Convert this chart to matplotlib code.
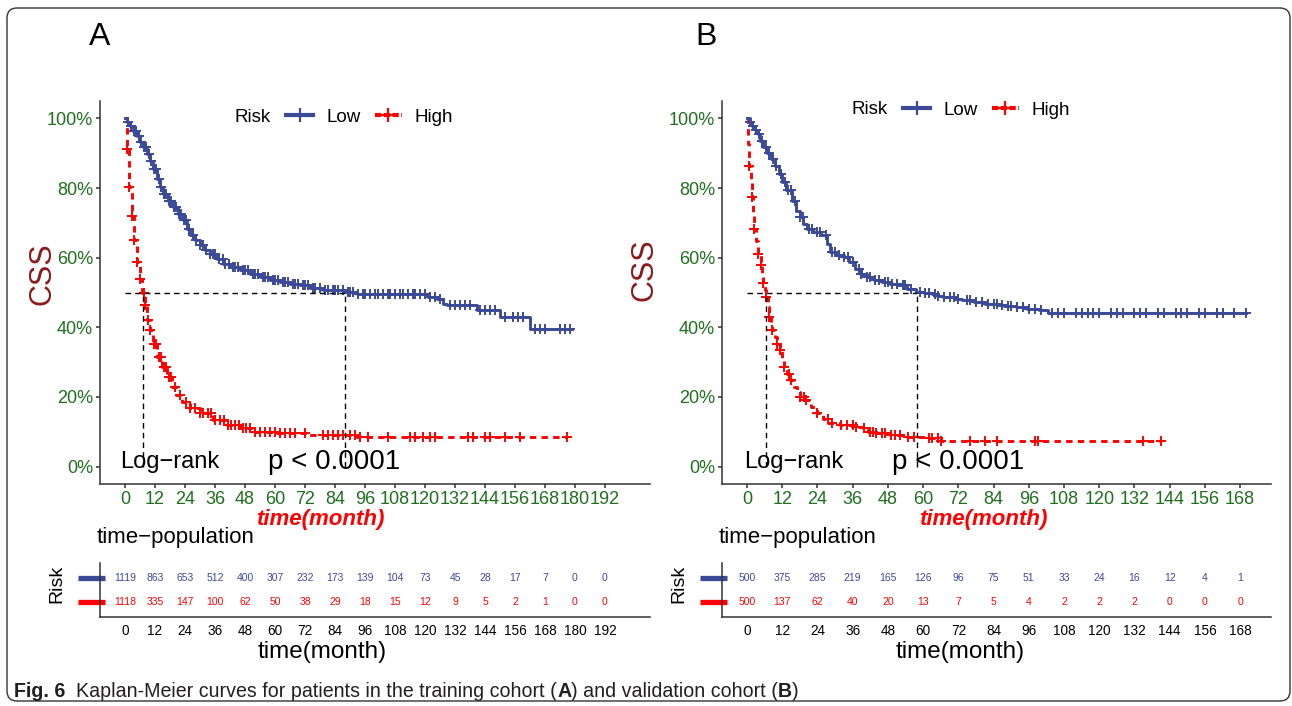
import numpy as np
import matplotlib
matplotlib.use('Agg')
import matplotlib.pyplot as plt
from matplotlib.lines import Line2D
from matplotlib.patches import FancyBboxPatch
import matplotlib.transforms as mtransforms

plt.rcParams['font.family'] = ['Liberation Sans', 'DejaVu Sans']

# ---------------- data ----------------
# Panel A (training cohort)
A_low_t = [0, 0.9, 2, 3.3, 4.7, 6, 7.3, 8.7, 10, 11.3, 12.7, 14, 15.3, 17.3, 19.3, 21.3, 23.3, 24.7, 26, 28,
           30, 32, 34, 36.7, 39.3, 42, 46, 50, 54, 58, 62, 66, 70, 74, 79.3, 87.3, 92.7, 121.3, 124.7, 127.3,
           128.7, 140.7, 150, 162, 178.7]
A_low_s = [100, 99.1, 97.9, 96.5, 95.0, 93.1, 91.7, 89.8, 87.9, 85.5, 82.6, 80.2, 78.3, 76.4, 74.5, 72.6, 70.7,
           68.3, 66.4, 65.0, 63.5, 62.1, 61.1, 59.7, 58.3, 57.3, 56.4, 55.4, 54.4, 53.5, 53.0, 52.5, 52.1, 51.4,
           50.8, 50.1, 49.7, 48.7, 48.0, 46.8, 46.3, 44.9, 43.0, 39.6, 39.6]
A_high_t = [0, 0.7, 1.7, 2.7, 3.7, 4.7, 6, 6.9, 8, 8.9, 10, 11.3, 12.7, 14.7, 16.7, 18.7, 20.4, 22.7, 26, 30,
            35.3, 40.7, 46, 51.3, 60.7, 72.7, 92.7, 122, 176.7]
A_high_s = [100, 91.2, 80.2, 72.1, 65, 58.7, 54, 49.9, 46.3, 42, 39.2, 35.3, 31.5, 28.7, 25.8, 22.9, 20.5, 18.6,
            16.7, 15.3, 13.4, 11.9, 11, 10, 9.7, 9.1, 8.6, 8.4, 8.4]
A_low_cens = [1, 2.5, 3.5, 4.5, 5.5, 6.5, 7.5, 8.5, 9.5, 10.5, 11.5, 12.5, 13.5, 14.5, 15.5, 16.5, 17.5, 18.5,
              19.5, 20.5, 21.5, 22.5, 23.5, 24.5, 25.5, 27, 28.5, 30, 31, 32.5, 34, 35, 36, 37.5, 39, 40, 41.5,
              43, 44, 45, 47, 48, 49, 51, 52, 53, 55, 56, 57, 59, 60, 61, 63, 64, 65, 67, 68, 69, 71, 72, 73,
              75, 76, 78, 80, 81, 83, 84, 85, 87, 89, 90, 91, 93, 95, 96, 98, 100, 101, 103, 105, 106, 108, 110,
              111, 113, 115, 116, 118, 120, 122, 124, 126, 130, 132, 134, 136, 138, 142, 144, 146, 148, 152,
              155, 157, 159, 164, 166, 168, 174, 176, 178]
A_high_cens = [0.7, 1.7, 2.7, 3.7, 4.7, 6, 7.5, 8, 9, 10, 11.5, 12.5, 13.5, 14.5, 15.5, 16.5, 17.5, 18.5, 20,
               22, 24.5, 26, 28, 30, 31, 33, 34.5, 36, 38, 39.5, 41, 42.5, 44, 45.5, 47, 48.5, 50, 52, 54, 56,
               58, 60, 62, 64, 66, 68, 72, 79, 81, 83, 85, 87, 90, 92, 94, 97, 105, 114, 116, 119, 122, 124,
               137, 139, 144, 146, 152, 158, 176.7]
A_median_low, A_median_high = 88, 7
A_breaks = [0, 12, 24, 36, 48, 60, 72, 84, 96, 108, 120, 132, 144, 156, 168, 180, 192]
A_low_n = [1119, 863, 653, 512, 400, 307, 232, 173, 139, 104, 73, 45, 28, 17, 7, 0, 0]
A_high_n = [1118, 335, 147, 100, 62, 50, 38, 29, 18, 15, 12, 9, 5, 2, 1, 0, 0]

# Panel B (validation cohort)
B_low_t = [0, 0.9, 1.7, 2.7, 3.6, 4.5, 5.6, 6.9, 8.2, 9.5, 10.8, 12.1, 13.4, 15.3, 16.6, 17.9, 19.2, 20.5,
           22.5, 25.1, 27.1, 28.4, 30.3, 32.9, 34.9, 36.9, 38.8, 40.8, 43.4, 46.0, 48.6, 51.2, 54.5, 57.7,
           60.3, 62.9, 64.9, 66.9, 70.8, 73.4, 77.3, 81.2, 85.1, 87.7, 91.6, 95.5, 99.4, 102.7, 169.9]
B_low_s = [100, 98.9, 97.9, 96.7, 95.5, 93.6, 91.7, 90.0, 88.3, 86.4, 84.0, 81.7, 79.3, 76.4, 73.5, 71.6, 69.7,
           68.3, 67.3, 66.4, 64.0, 61.6, 60.9, 60.2, 58.7, 56.8, 55.4, 54.4, 53.5, 53.0, 52.5, 52.1, 51.1, 50.1,
           49.9, 49.7, 49.0, 48.7, 48.2, 47.8, 47.3, 46.8, 46.4, 46.0, 45.8, 45.4, 44.9, 44.1, 44.1]
B_high_t = [0, 0.5, 0.7, 1.3, 1.6, 2.0, 2.4, 3.0, 3.6, 4.7, 5.2, 5.6, 6.2, 6.6, 7.1, 7.5, 8.2, 8.6, 9.5, 10.1,
            11.2, 11.8, 12.7, 13.6, 14.7, 16.0, 17.0, 17.9, 19.9, 21.8, 23.8, 25.8, 27.7, 31.6, 36.9, 39.5,
            41.4, 43.4, 48.6, 53.8, 61.6, 66.2, 141.2]
B_high_s = [100, 92.6, 86.4, 82.1, 77.4, 72.6, 68.3, 64.9, 61.1, 57.8, 55.4, 52.7, 50.6, 48.7, 45.8, 43.0, 40.6,
            39.2, 37.2, 35.3, 33.4, 31.0, 28.7, 26.7, 24.8, 22.9, 21.5, 20.1, 19.1, 17.2, 15.3, 13.8, 12.4,
            11.9, 11.5, 11.0, 10.0, 9.6, 9.1, 8.4, 8.1, 7.4, 7.4]
B_low_cens = [1, 2, 3, 4, 5, 6.5, 7.5, 9, 10, 11.5, 13, 14, 15, 16.5, 18, 19, 21, 22, 24, 25, 27, 29, 30, 31.5,
              33, 34.5, 36, 38, 39, 41, 42, 43.5, 45, 47, 48, 49.5, 51, 53, 54, 56, 59, 60.5, 62, 64, 65, 67,
              69, 70.5, 72, 75, 76, 78, 80, 82, 84, 85, 87, 89, 90, 92, 94, 96, 98, 100, 104, 106, 108, 112,
              114, 116, 118, 120, 124, 126, 128, 132, 134, 136, 140, 142, 146, 148, 150, 154, 156, 160, 162,
              166, 169.9]
B_high_cens = [0.7, 1.6, 2.4, 3.6, 4.7, 5.6, 6.6, 7.5, 8.6, 10.1, 11.2, 12.7, 14.2, 15, 18, 19.5, 20, 24, 27.5,
               29, 32, 34, 36, 37, 40, 42, 43, 44, 46, 47, 49, 50.5, 52, 55, 57, 62, 63, 65, 66.2, 76, 81, 85,
               98, 99, 135, 141]
B_median_low, B_median_high = 58, 6.6
B_breaks = [0, 12, 24, 36, 48, 60, 72, 84, 96, 108, 120, 132, 144, 156, 168]
B_low_n = [500, 375, 285, 219, 165, 126, 96, 75, 51, 33, 24, 16, 12, 4, 1]
B_high_n = [500, 137, 62, 40, 20, 13, 7, 5, 4, 2, 2, 2, 0, 0, 0]

y_ticks = [0, 0.2, 0.4, 0.6, 0.8, 1.0]
y_labels = ['0%', '20%', '40%', '60%', '80%', '100%']

# ---------------- style ----------------
W, H = 1292, 706
BLUE = '#3B4A97'
RED = '#FF0000'
GREEN = '#1F6F1F'
DARKRED = '#8B1A1A'
AXC = '#333333'
RED_LS = (0, (2.2, 1.8))

fig = plt.figure(figsize=(W / 100, H / 100), dpi=100)


def rect(l, t, r, b):
    return [l / W, 1 - b / H, (r - l) / W, (b - t) / H]


def fxy(x, y):
    return x / W, 1 - y / H


panels = [
    dict(label='A', x0=100, x1=650, xlim=(-10, 210), data=(A_low_t, A_low_s, A_low_cens, A_high_t, A_high_s,
         A_high_cens), med=(A_median_low, A_median_high), breaks=A_breaks, nlow=A_low_n, nhigh=A_high_n,
         lab_xy=(100, 37), css_xy=(42, 274), lr_x=-2, p_x=57, red_xl=(320, 519), leg_y=117, risk_x=235,
         hand_x=286, tp_x=97, risk_lab_x=57, bot_xl=322),
    dict(label='B', x0=722, x1=1271, xlim=(-8.5, 178.5), data=(B_low_t, B_low_s, B_low_cens, B_high_t, B_high_s,
         B_high_cens), med=(B_median_low, B_median_high), breaks=B_breaks, nlow=B_low_n, nhigh=B_high_n,
         lab_xy=(706, 37), css_xy=(645, 270), lr_x=-1, p_x=49.4, red_xl=(983, 519), leg_y=110, risk_x=852,
         hand_x=903, tp_x=719, risk_lab_x=679, bot_xl=960),
]

for p in panels:
    ax = fig.add_axes(rect(p['x0'], 101, p['x1'], 484))
    lt, ls_, lc, ht, hs, hc = p['data']
    for t, s, cens, col, lstyle in [(ht, hs, hc, RED, RED_LS), (lt, ls_, lc, BLUE, '-')]:
        t = np.asarray(t, float)
        s = np.asarray(s, float) / 100
        ax.step(t, s, where='post', color=col, lw=2.1, ls=lstyle, zorder=3)
        c = np.asarray(cens, float)
        idx = np.clip(np.searchsorted(t, c, side='right') - 1, 0, len(s) - 1)
        ax.plot(c, s[idx], ls='none', marker='+', ms=6.5, mew=1.4, color=col, zorder=4)
    mlow, mhigh = p['med']
    ax.plot([0, mlow], [0.5, 0.5], color='black', lw=1.0, ls=(0, (4, 3)), zorder=5)
    ax.plot([mlow, mlow], [0, 0.5], color='black', lw=1.0, ls=(0, (4, 3)), zorder=5)
    ax.plot([mhigh, mhigh], [0, 0.5], color='black', lw=1.0, ls=(0, (4, 3)), zorder=5)

    ax.set_xlim(*p['xlim'])
    ax.set_ylim(-0.05, 1.05)
    ax.set_xticks(p['breaks'])
    ax.set_xticklabels([str(b) for b in p['breaks']])
    ax.set_yticks(y_ticks)
    ax.set_yticklabels(y_labels)
    for sp in ['top', 'right']:
        ax.spines[sp].set_visible(False)
    for sp in ['left', 'bottom']:
        ax.spines[sp].set_color(AXC)
        ax.spines[sp].set_linewidth(1.1)
    ax.tick_params(direction='out', length=3, width=1.1, color=AXC, labelsize=13,
                   labelcolor=GREEN, pad=2)

    ax.text(p['lr_x'], 0.012, 'Log\u2212rank', fontsize=17, ha='left', va='center')
    ax.text(p['p_x'], 0.012, 'p < 0.0001', fontsize=20, ha='left', va='center')

    # labels
    fig.text(*fxy(*p['lab_xy']), p['label'], fontsize=23, ha='center', va='center')
    fig.text(*fxy(*p['css_xy']), 'CSS', fontsize=22, color=DARKRED, rotation=90,
             ha='center', va='center')
    fig.text(*fxy(*p['red_xl']), 'time(month)', fontsize=16, color=RED, weight='bold',
             style='italic', ha='center', va='center')

    # legend
    fig.text(*fxy(p['risk_x'], p['leg_y']), 'Risk', fontsize=13.5, ha='left', va='center')
    h_low = Line2D([], [], color=BLUE, lw=3, marker='+', ms=10, mew=1.6)
    h_high = Line2D([], [], color=RED, lw=3, ls=(0, (1.5, 0.6)), marker='+', ms=10, mew=1.6)
    fig.legend([h_low, h_high], ['Low', 'High'], loc='center left',
               bbox_to_anchor=fxy(p['hand_x'], p['leg_y']), ncol=2, frameon=False, fontsize=13.5,
               handlelength=1.45, handletextpad=0.7, columnspacing=0.75, borderpad=0,
               borderaxespad=0)

    # risk table
    tb = fig.add_axes(rect(p['x0'], 563, p['x1'], 617))
    tb.set_xlim(*p['xlim'])
    tb.set_ylim(0.4, 2.6)
    for b, nl, nh in zip(p['breaks'], p['nlow'], p['nhigh']):
        tb.text(b, 2, str(nl), color=BLUE, fontsize=7.5, ha='center', va='center')
        tb.text(b, 1, str(nh), color=RED, fontsize=7.5, ha='center', va='center')
    tb.set_xticks(p['breaks'])
    tb.set_xticklabels([str(b) for b in p['breaks']])
    tb.set_yticks([])
    for sp in ['top', 'right']:
        tb.spines[sp].set_visible(False)
    for sp in ['left', 'bottom']:
        tb.spines[sp].set_color(AXC)
        tb.spines[sp].set_linewidth(1.1)
    tb.tick_params(axis='x', length=0, labelsize=9.8, labelcolor='black', pad=5)
    trans = mtransforms.blended_transform_factory(tb.transAxes, tb.transData)
    w = p['x1'] - p['x0']
    for yy, col in [(2, BLUE), (1, RED)]:
        tb.plot([-22 / w, 5 / w], [yy, yy], color=col, lw=3.8,
                transform=trans, clip_on=False, solid_capstyle='butt')
    fig.text(*fxy(p['tp_x'], 537), 'time\u2212population', fontsize=16, ha='left', va='center')
    fig.text(*fxy(p['risk_lab_x'], 584), 'Risk', fontsize=14, rotation=90, ha='center', va='center')
    fig.text(*fxy(p['bot_xl'], 652), 'time(month)', fontsize=17.5, ha='center', va='center')

# border
border = FancyBboxPatch((0.07, 0.05), 12.83, 6.93, boxstyle='round,pad=0,rounding_size=0.1',
                        transform=fig.dpi_scale_trans, facecolor='none', edgecolor='#333333', lw=1.0)
fig.add_artist(border)

# caption
CAPC = '#231F20'
CAPS = 14.1
t0 = fig.text(14 / W, 1 - 697 / H, 'Fig. 6', fontsize=CAPS, weight='bold', color=CAPC,
              ha='left', va='baseline')
pieces = [('  Kaplan-Meier curves for patients in the training cohort (', 'normal'), ('A', 'bold'),
          (') and validation cohort (', 'normal'), ('B', 'bold'), (')', 'normal')]
prev = t0
for txt, wt in pieces:
    prev = plt.annotate(txt, xy=(1, 0), xycoords=prev, xytext=(0, 0), textcoords='offset points',
                        fontsize=CAPS, weight=wt, color=CAPC, ha='left', va='bottom',
                        annotation_clip=False)

fig.savefig('out.png', dpi=100)
